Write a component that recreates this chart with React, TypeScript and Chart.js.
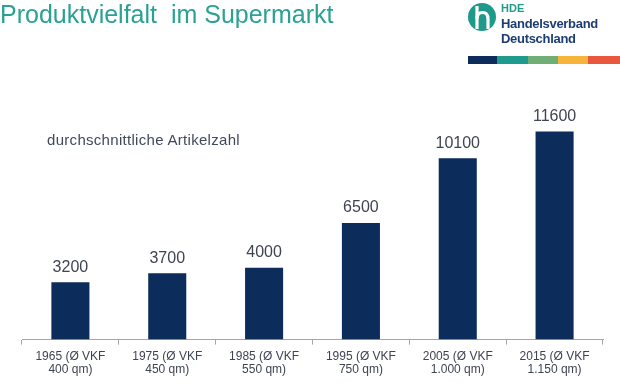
import React, { useEffect, useRef } from "react";
import { Chart, registerables } from "chart.js";

Chart.register(...registerables);

const years = ["1965", "1975", "1985", "1995", "2005", "2015"];
const salesAreas = ["400 qm)", "450 qm)", "550 qm)", "750 qm)", "1.000 qm)", "1.150 qm)"];
const articleCounts = [3200, 3700, 4000, 6500, 10100, 11600];
const titleText = "Produktvielfalt  im Supermarkt";
const subtitleText = "durchschnittliche Artikelzahl";

const NAVY = "#0c2d5c";
const TEAL = "#2aa194";

const valueLabels = {
  id: "valueLabels",
  afterDatasetsDraw(chart: any) {
    const ctx = chart.ctx;
    const meta = chart.getDatasetMeta(0);
    ctx.save();
    ctx.font = '16px "Liberation Sans", Arial, sans-serif';
    ctx.fillStyle = "#3f4452";
    ctx.textAlign = "center";
    ctx.textBaseline = "bottom";
    meta.data.forEach((bar: any, i: number) => {
      ctx.fillText(String(chart.data.datasets[0].data[i]), bar.x, bar.y - 7);
    });
    ctx.restore();
  },
};

function Logo() {
  return (
    <div style={{ position: "absolute", left: 466, top: 2, width: 154, height: 64 }}>
      <svg width="30" height="30" viewBox="0 0 30 30" style={{ position: "absolute", left: 1, top: 0 }}>
        <circle cx="15" cy="15" r="14" fill="#1f9a8a" />
        <path d="M10 4 L10 27" stroke="#fff" strokeWidth="3.2" fill="none" />
        <path d="M10 17 Q10 10.5 15.5 10.5 Q21 10.5 21 17 L21 27" stroke="#fff" strokeWidth="3.2" fill="none" />
      </svg>
      <div
        style={{
          position: "absolute",
          left: 35,
          top: 0,
          fontFamily: '"Liberation Sans", Arial, sans-serif',
          fontWeight: "bold",
          lineHeight: "15px",
          whiteSpace: "pre",
        }}
      >
        <div style={{ color: "#1f9a8a", fontSize: 11, lineHeight: "13px" }}>HDE</div>
        <div style={{ color: "#1d3d72", fontSize: 13, letterSpacing: "-0.3px", marginTop: 1 }}>Handelsverband</div>
        <div style={{ color: "#1d3d72", fontSize: 13, letterSpacing: "-0.3px" }}>Deutschland</div>
      </div>
      <div style={{ position: "absolute", left: 2, top: 54, height: 8, width: 152, display: "flex" }}>
        <div style={{ width: 29, background: "#0c2d5c" }} />
        <div style={{ width: 31, background: "#1f9a8f" }} />
        <div style={{ width: 30, background: "#6fae74" }} />
        <div style={{ width: 30, background: "#f6b53a" }} />
        <div style={{ width: 32, background: "#e8573e" }} />
      </div>
    </div>
  );
}

export default function App() {
  const canvasRef = useRef<HTMLCanvasElement>(null);

  useEffect(() => {
    if (!canvasRef.current) return;
    const labels = years.map((y, i) => [y + " (Ø VKF", salesAreas[i]]);
    const chart = new Chart(canvasRef.current, {
      type: "bar",
      data: {
        labels,
        datasets: [
          {
            data: articleCounts,
            backgroundColor: NAVY,
            borderWidth: 0,
            barPercentage: 0.393,
            categoryPercentage: 1,
          },
        ],
      },
      options: {
        responsive: false,
        animation: false,
        layout: { padding: { left: 22, right: 17, top: 100, bottom: 3 } },
        plugins: { legend: { display: false }, tooltip: { enabled: false }, title: { display: false } },
        scales: {
          y: { display: false, min: 0, max: 13350 },
          x: {
            grid: { display: true, drawOnChartArea: false, drawTicks: true, tickLength: 5, color: "#a6a6a6", offset: true },
            border: { display: true, color: "#a6a6a6", width: 1 },
            ticks: {
              color: "#3f4452",
              padding: 5,
              maxRotation: 0,
              autoSkip: false,
              font: { family: '"Liberation Sans", Arial, sans-serif', size: 12, lineHeight: 1.1 },
            },
          },
        },
      },
      plugins: [valueLabels],
    });
    return () => chart.destroy();
  }, []);

  return (
    <div style={{ position: "absolute", left: 0, top: 0, width: 620, height: 384, background: "#fff", overflow: "hidden" }}>
      <canvas ref={canvasRef} width={620} height={384} style={{ position: "absolute", left: 0, top: 0 }} />
      <div
        style={{
          position: "absolute",
          left: 0,
          top: -1,
          fontFamily: '"Liberation Sans", Arial, sans-serif',
          fontSize: 25,
          color: TEAL,
          whiteSpace: "pre",
          lineHeight: "30px",
        }}
      >
        {titleText}
      </div>
      <div
        style={{
          position: "absolute",
          left: 47,
          top: 131,
          fontFamily: '"Liberation Sans", Arial, sans-serif',
          fontSize: 15,
          color: "#404a5c",
          letterSpacing: "0.3px",
          whiteSpace: "pre",
        }}
      >
        {subtitleText}
      </div>
      <Logo />
    </div>
  );
}
